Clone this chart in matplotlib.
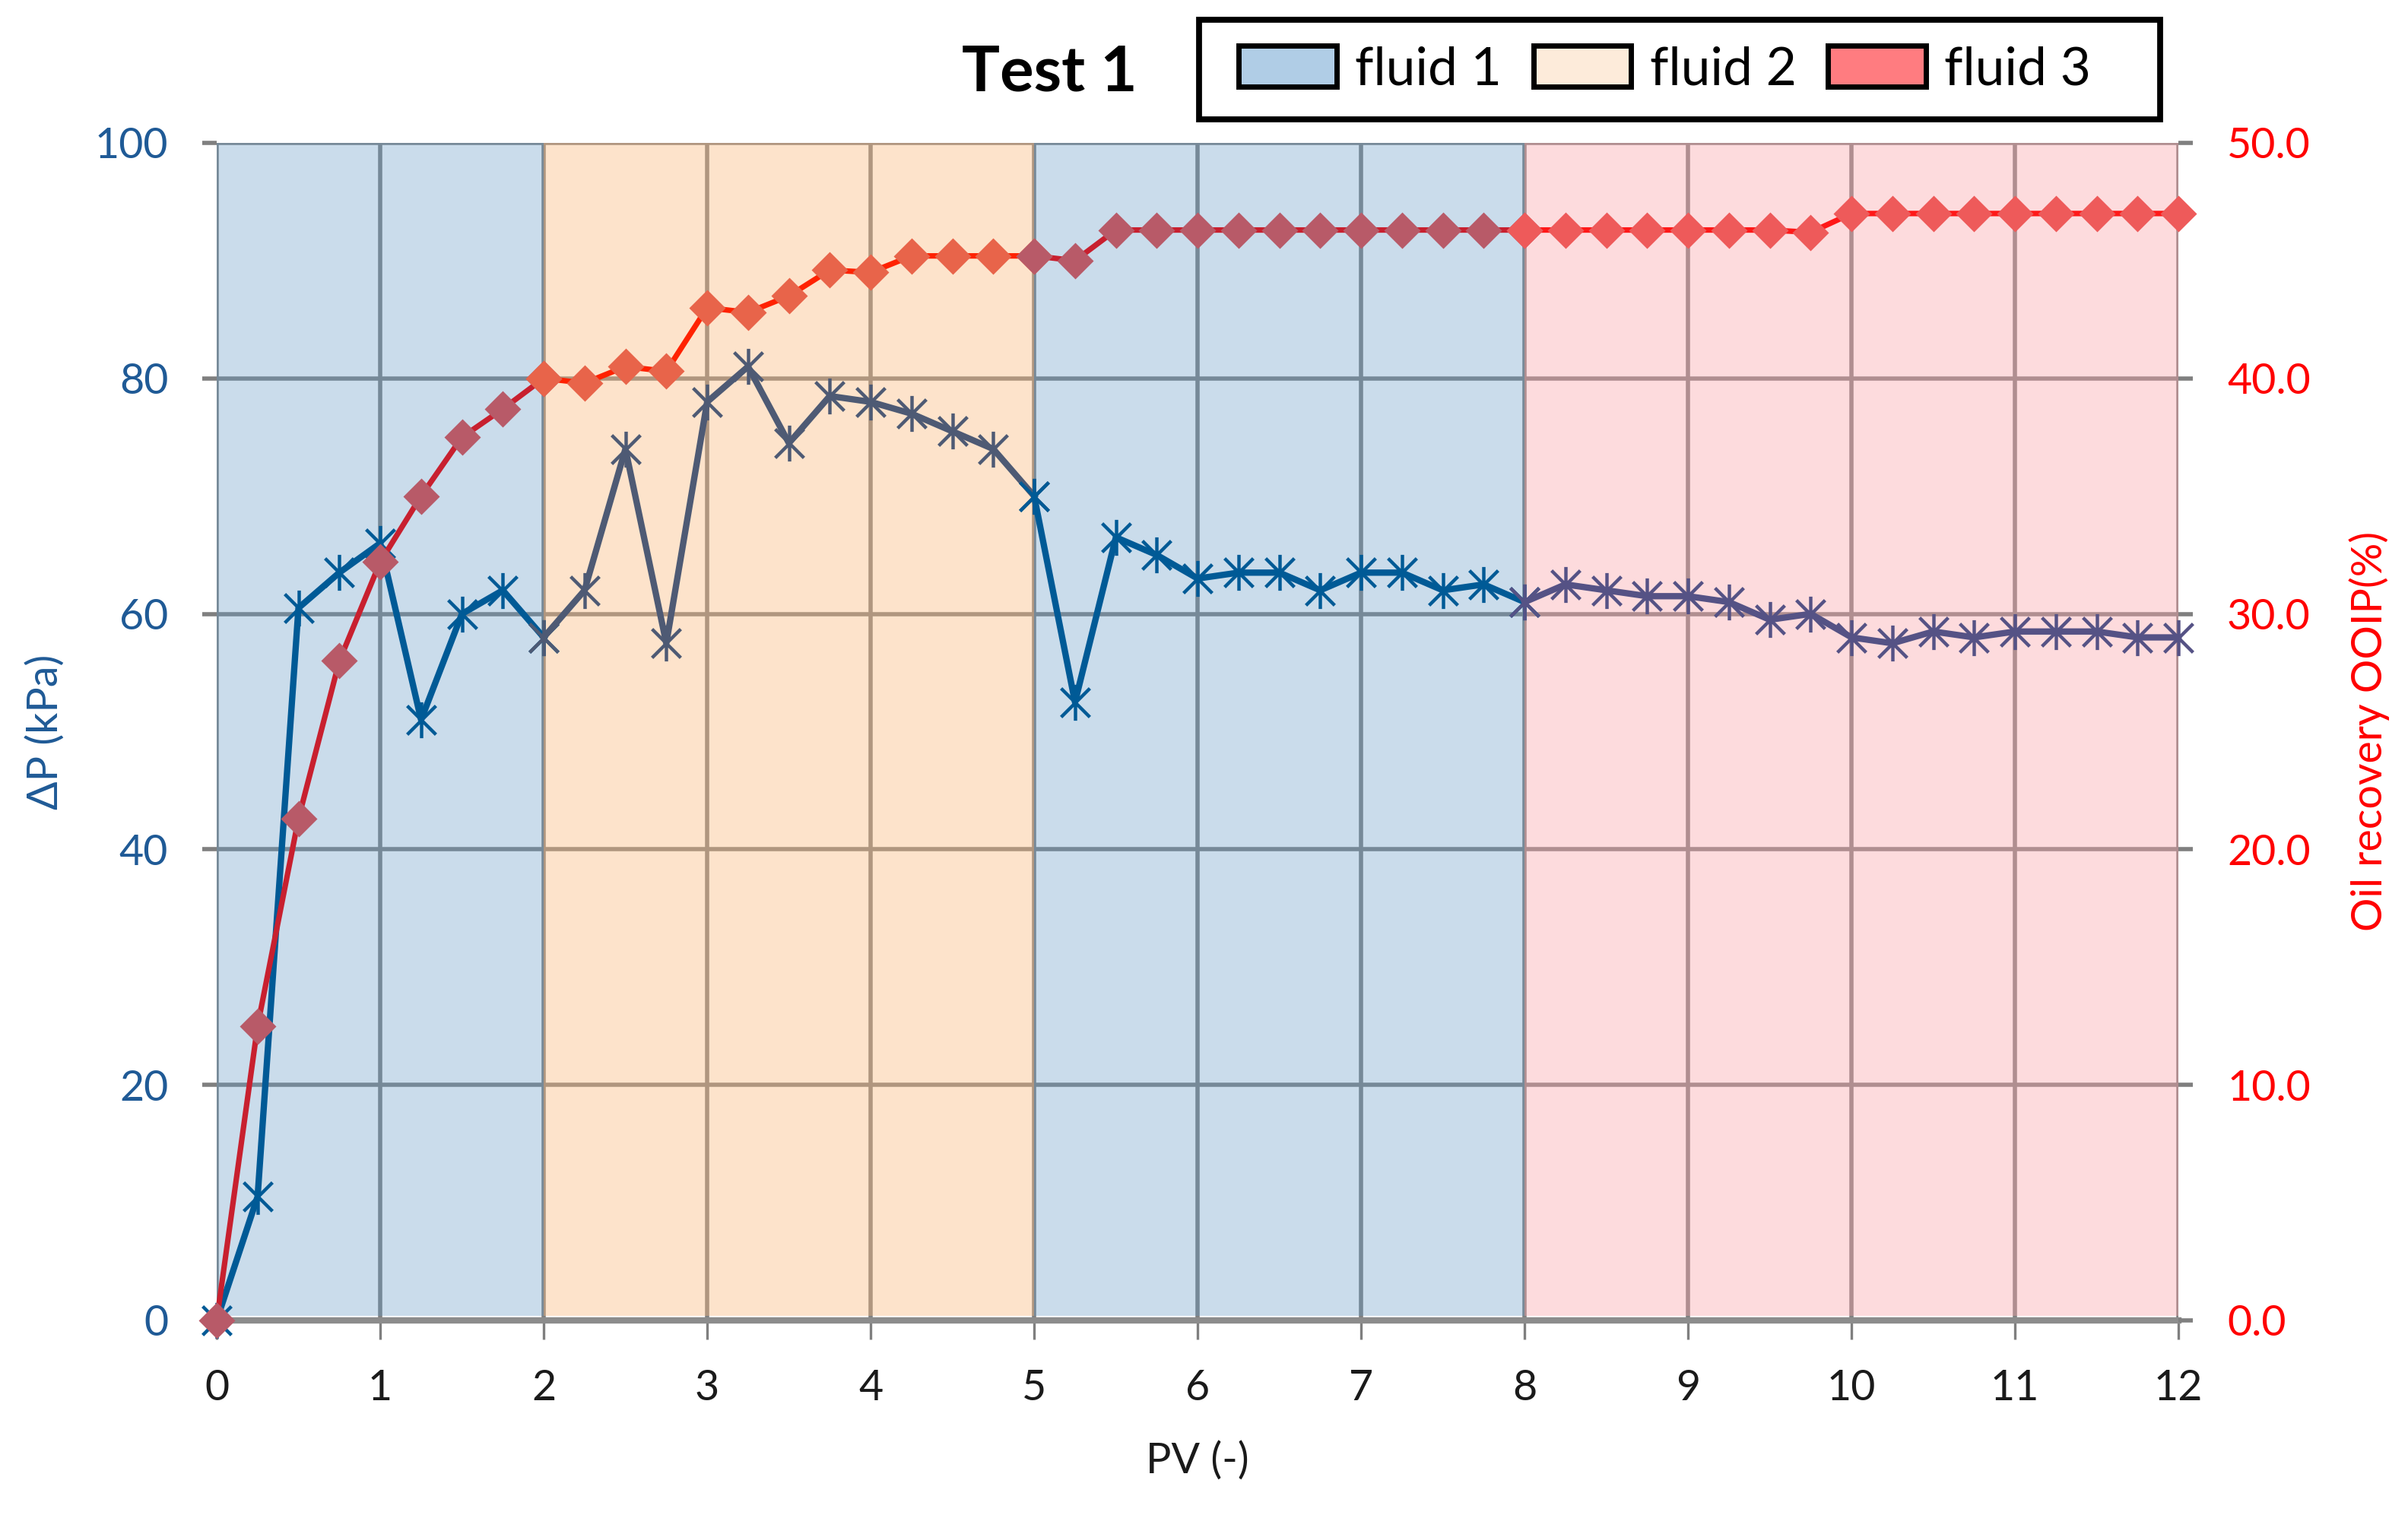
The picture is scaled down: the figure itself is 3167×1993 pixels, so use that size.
import matplotlib
matplotlib.use("Agg")
import matplotlib.pyplot as plt
from matplotlib.patches import Patch, Rectangle
from matplotlib.path import Path
import numpy as np

plt.rcParams['font.family'] = ['Lato', 'DejaVu Sans']

# PV (-) sampled every 0.25
pv = [i * 0.25 for i in range(49)]

# pressure drop (kPa)
dp = [0, 10.5, 60.5, 63.5, 66, 51, 60, 62, 58,
      62, 74, 57.5, 78, 81, 74.5, 78.5, 78, 77, 75.5, 74, 70,
      52.5, 66.5, 65, 63, 63.5, 63.5, 62, 63.5, 63.5, 62, 62.5, 61,
      62.5, 62, 61.5, 61.5, 61, 59.5, 60, 58, 57.5, 58.5, 58, 58.5, 58.5, 58.5, 58, 58]

# oil recovery (% OOIP)
rec = [0, 12.5, 21.3, 28, 32.2, 35, 37.5, 38.7, 40,
       39.8, 40.5, 40.3, 43, 42.8, 43.5, 44.6, 44.5, 45.2, 45.2, 45.2, 45.2,
       45.0, 46.3, 46.3, 46.3, 46.3, 46.3, 46.3, 46.3, 46.3, 46.3, 46.3, 46.3,
       46.3, 46.3, 46.3, 46.3, 46.3, 46.3, 46.2, 47, 47, 47, 47, 47, 47, 47, 47, 47]

# injected fluid stages: (start PV, end PV, fluid index)
stage_start = [0, 2, 5, 8]
stage_end = [2, 5, 8, 12]
stage_fluid = [0, 1, 0, 2]
fluid_names = ['fluid 1', 'fluid 2', 'fluid 3']

band_colors = ['#679DC8', '#FABB7F', '#FAA5AC']
band_alpha = [0.35, 0.4, 0.4]
legend_colors = ['#B0CDE6', '#FDEBDA', '#FF7C80']
dp_colors = ['#005A96', '#4E5A74', '#555285']
rec_line_colors = ['#C8202F', '#FF2200', '#FF1818']
rec_marker_colors = ['#B85A68', '#E8644A', '#EE5A5A']

# excel-like star marker: an x with a vertical stroke
star = Path([(-1, -1), (1, 1), (-1, 1), (1, -1), (0, -1.25), (0, 1.25)],
            [Path.MOVETO, Path.LINETO, Path.MOVETO, Path.LINETO, Path.MOVETO, Path.LINETO])

fig = plt.figure(figsize=(15.835, 9.965), dpi=200)
ax = fig.add_axes([0.09, 0.1285, 0.8147, 0.7772])
ax2 = ax.twinx()

grid_c = '#7F7F7F'
ax.set_axisbelow(True)
ax.grid(True, color=grid_c, linewidth=2.0)

for s, e, f in zip(stage_start, stage_end, stage_fluid):
    ax.axvspan(s, e, ymin=0.004, color=band_colors[f], alpha=band_alpha[f], lw=0, zorder=1)

pv_arr = np.array(pv)
for s, e, f in zip(stage_start, stage_end, stage_fluid):
    m = (pv_arr >= s) & (pv_arr <= e)
    x = pv_arr[m]
    ax.plot(x, np.array(dp)[m], color=dp_colors[f], lw=3.0, marker=star, ms=17,
            mew=1.6, zorder=3, clip_on=False)
    ax2.plot(x, np.array(rec)[m], color=rec_line_colors[f], lw=2.6, zorder=3,
             clip_on=False)
    ax2.plot(x, np.array(rec)[m], ls='none', marker='D', ms=12,
             mfc=rec_marker_colors[f], mec='none', zorder=4, clip_on=False)

ax.set_xlim(0, 12)
ax.set_ylim(0, 100)
ax2.set_ylim(0, 50)
ax.set_xticks(range(13))
ax.set_yticks(range(0, 101, 20))
ax2.set_yticks(range(0, 51, 10))
ax2.set_yticklabels([f'{v:.1f}' for v in range(0, 51, 10)])

for a in (ax, ax2):
    for sp in a.spines.values():
        sp.set_visible(False)
ax.spines['bottom'].set_visible(True)
ax.spines['bottom'].set_color('#8C8C8C')
ax.spines['bottom'].set_linewidth(3.0)
ax.spines['bottom'].set_zorder(2)

ax.tick_params(axis='x', length=9, width=1.2, color=grid_c, pad=14,
               labelsize=20, labelcolor='#1A1A1A')
ax.tick_params(axis='y', length=7, width=2.0, color=grid_c, pad=16,
               labelsize=20, labelcolor='#1F5A96')
ax2.tick_params(axis='y', length=7, width=2.0, color=grid_c, pad=16,
                labelsize=20, labelcolor='#FF0000')

ax.set_xlabel('PV (-)', fontsize=20, color='#1A1A1A', labelpad=16)
ax.set_ylabel('ΔP (kPa)', fontsize=20, color='#1F5A96', labelpad=14)
ax2.set_ylabel('Oil recovery OOIP(%)', fontsize=20, color='#FF0000', labelpad=18)

fig.text(0.436, 0.952, 'Test 1', fontsize=30, fontweight='bold', ha='center', va='center')

# legend box drawn separately so the padding can match the original
fig.patches.append(Rectangle((0.498, 0.921), 0.399, 0.066, transform=fig.transFigure,
                             facecolor='white', edgecolor='black', linewidth=2.8, zorder=5))
handles = [Patch(facecolor=legend_colors[i], edgecolor='black', linewidth=2.5,
                 label=fluid_names[i]) for i in range(3)]
leg = fig.legend(handles=handles, loc='center left', bbox_to_anchor=(0.5145, 0.954),
                 ncol=3, fontsize=25, frameon=False,
                 handlelength=1.85, handleheight=0.8, handletextpad=0.35,
                 columnspacing=0.6, borderpad=0, borderaxespad=0)
leg.set_zorder(6)

fig.savefig('out.png', dpi=200)
